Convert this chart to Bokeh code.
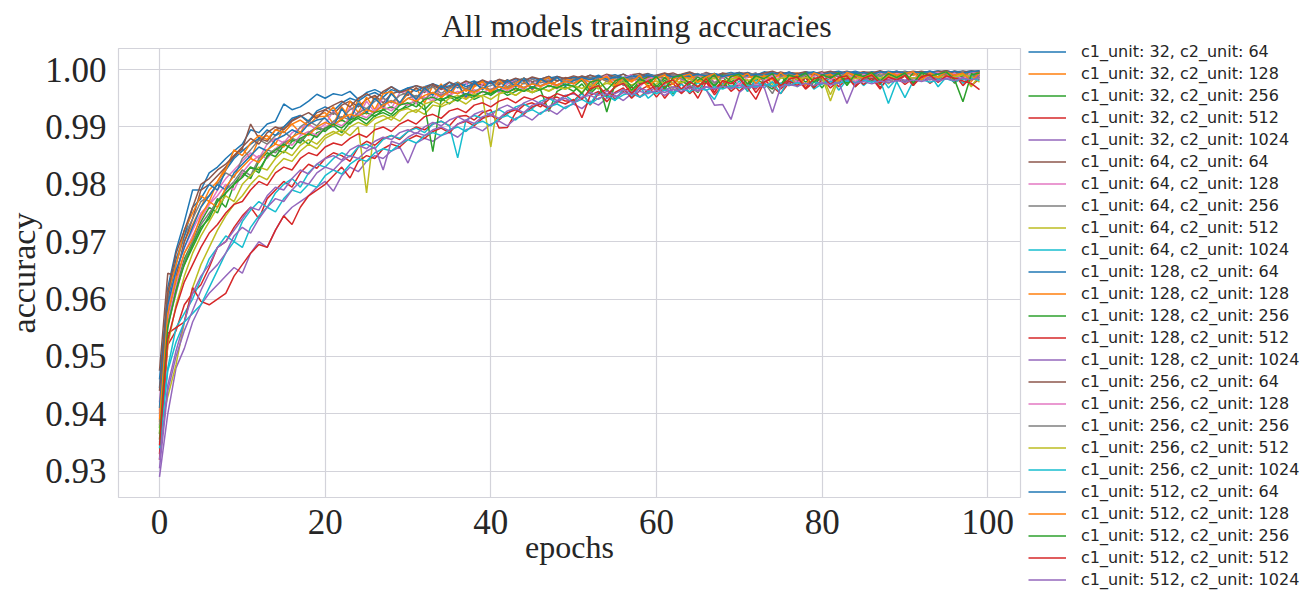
from bokeh.plotting import figure
from bokeh.models import Range1d, FixedTicker, NumeralTickFormatter, Legend, LegendItem
from bokeh.embed import file_html
from bokeh.resources import INLINE

epochs = list(range(100))
c1_units = [32, 64, 128, 256, 512]
c2_units = [64, 128, 256, 512, 1024]
x_ticks = [0, 20, 40, 60, 80, 100]
y_ticks = [0.93, 0.94, 0.95, 0.96, 0.97, 0.98, 0.99, 1.00]

acc_32_64 = [
    0.9445, 0.9620, 0.9685, 0.9735, 0.9790, 0.9790, 0.9820, 0.9830, 0.9845, 0.9858,
    0.9870, 0.9895, 0.9890, 0.9905, 0.9910, 0.9940, 0.9930, 0.9935, 0.9945, 0.9957,
    0.9950, 0.9958, 0.9955, 0.9962, 0.9948, 0.9960, 0.9965, 0.9958, 0.9970, 0.9962,
    0.9968, 0.9972, 0.9965, 0.9975, 0.9970, 0.9978, 0.9968, 0.9975, 0.9980, 0.9972,
    0.9978, 0.9982, 0.9975, 0.9980, 0.9985, 0.9978, 0.9983, 0.9988, 0.9980, 0.9985,
    0.9982, 0.9988, 0.9985, 0.9990, 0.9983, 0.9988, 0.9992, 0.9985, 0.9990, 0.9987,
    0.9990, 0.9985, 0.9992, 0.9988, 0.9994, 0.9987, 0.9990, 0.9993, 0.9988, 0.9992,
    0.9995, 0.9990, 0.9993, 0.9988, 0.9994, 0.9991, 0.9996, 0.9990, 0.9993, 0.9995,
    0.9992, 0.9996, 0.9990, 0.9994, 0.9997, 0.9993, 0.9995, 0.9991, 0.9996, 0.9994,
    0.9997, 0.9993, 0.9996, 0.9995, 0.9998, 0.9994, 0.9996, 0.9997, 0.9995, 0.9998]
acc_32_128 = [
    0.9405, 0.9590, 0.9640, 0.9700, 0.9730, 0.9760, 0.9790, 0.9805, 0.9830, 0.9850,
    0.9862, 0.9845, 0.9878, 0.9885, 0.9870, 0.9898, 0.9905, 0.9890, 0.9912, 0.9920,
    0.9925, 0.9905, 0.9935, 0.9915, 0.9948, 0.9922, 0.9955, 0.9930, 0.9962, 0.9940,
    0.9958, 0.9968, 0.9942, 0.9972, 0.9950, 0.9966, 0.9975, 0.9948, 0.9970, 0.9978,
    0.9958, 0.9975, 0.9982, 0.9962, 0.9978, 0.9966, 0.9984, 0.9970, 0.9980, 0.9986,
    0.9975, 0.9983, 0.9978, 0.9985, 0.9980, 0.9976, 0.9986, 0.9982, 0.9988, 0.9980,
    0.9985, 0.9990, 0.9983, 0.9987, 0.9992, 0.9980, 0.9988, 0.9991, 0.9985, 0.9990,
    0.9987, 0.9992, 0.9984, 0.9990, 0.9993, 0.9986, 0.9991, 0.9988, 0.9994, 0.9990,
    0.9992, 0.9987, 0.9995, 0.9990, 0.9993, 0.9996, 0.9989, 0.9994, 0.9991, 0.9995,
    0.9993, 0.9990, 0.9996, 0.9992, 0.9995, 0.9993, 0.9997, 0.9991, 0.9995, 0.9996]
acc_32_256 = [
    0.9365, 0.9560, 0.9630, 0.9660, 0.9690, 0.9720, 0.9745, 0.9775, 0.9760, 0.9800,
    0.9815, 0.9830, 0.9820, 0.9850, 0.9862, 0.9855, 0.9875, 0.9880, 0.9870, 0.9890,
    0.9895, 0.9902, 0.9890, 0.9908, 0.9915, 0.9905, 0.9920, 0.9925, 0.9918, 0.9930,
    0.9935, 0.9942, 0.9930, 0.9945, 0.9950, 0.9940, 0.9952, 0.9958, 0.9948, 0.9955,
    0.9960, 0.9965, 0.9955, 0.9962, 0.9968, 0.9960, 0.9965, 0.9927, 0.9962, 0.9970,
    0.9962, 0.9975, 0.9958, 0.9972, 0.9951, 0.9970, 0.9980, 0.9962, 0.9976, 0.9984,
    0.9966, 0.9982, 0.9958, 0.9980, 0.9972, 0.9960, 0.9985, 0.9970, 0.9988, 0.9968,
    0.9986, 0.9962, 0.9984, 0.9975, 0.9966, 0.9989, 0.9973, 0.9990, 0.9978, 0.9986,
    0.9968, 0.9988, 0.9976, 0.9992, 0.9970, 0.9985, 0.9990, 0.9974, 0.9993, 0.9980,
    0.9990, 0.9972, 0.9994, 0.9982, 0.9988, 0.9995, 0.9976, 0.9991, 0.9983, 0.9992]
acc_32_512 = [
    0.9330, 0.9520, 0.9545, 0.9590, 0.9610, 0.9625, 0.9655, 0.9690, 0.9700, 0.9725,
    0.9745, 0.9760, 0.9740, 0.9775, 0.9790, 0.9805, 0.9795, 0.9820, 0.9835, 0.9828,
    0.9845, 0.9855, 0.9850, 0.9840, 0.9865, 0.9875, 0.9868, 0.9880, 0.9885, 0.9878,
    0.9892, 0.9900, 0.9895, 0.9905, 0.9910, 0.9902, 0.9918, 0.9920, 0.9912, 0.9925,
    0.9930, 0.9898, 0.9899, 0.9925, 0.9938, 0.9942, 0.9935, 0.9948, 0.9952, 0.9945,
    0.9945, 0.9960, 0.9938, 0.9958, 0.9966, 0.9948, 0.9962, 0.9970, 0.9952, 0.9965,
    0.9972, 0.9950, 0.9968, 0.9976, 0.9958, 0.9970, 0.9978, 0.9956, 0.9972, 0.9980,
    0.9962, 0.9976, 0.9966, 0.9982, 0.9970, 0.9958, 0.9977, 0.9984, 0.9966, 0.9978,
    0.9985, 0.9968, 0.9980, 0.9986, 0.9972, 0.9981, 0.9988, 0.9969, 0.9983, 0.9987,
    0.9974, 0.9985, 0.9990, 0.9976, 0.9986, 0.9991, 0.9978, 0.9988, 0.9972, 0.9984]
acc_32_1024 = [
    0.9290, 0.9400, 0.9480, 0.9514, 0.9560, 0.9590, 0.9610, 0.9625, 0.9640, 0.9655,
    0.9645, 0.9680, 0.9700, 0.9690, 0.9720, 0.9745, 0.9760, 0.9770, 0.9780, 0.9795,
    0.9805, 0.9788, 0.9815, 0.9830, 0.9822, 0.9840, 0.9850, 0.9845, 0.9858, 0.9865,
    0.9837, 0.9872, 0.9880, 0.9875, 0.9885, 0.9890, 0.9882, 0.9895, 0.9900, 0.9893,
    0.9905, 0.9910, 0.9902, 0.9915, 0.9920, 0.9912, 0.9925, 0.9930, 0.9922, 0.9935,
    0.9940, 0.9932, 0.9945, 0.9938, 0.9950, 0.9955, 0.9946, 0.9958, 0.9952, 0.9960,
    0.9962, 0.9955, 0.9965, 0.9960, 0.9968, 0.9962, 0.9970, 0.9965, 0.9972, 0.9968,
    0.9974, 0.9970, 0.9976, 0.9972, 0.9978, 0.9973, 0.9977, 0.9980, 0.9975, 0.9979,
    0.9982, 0.9976, 0.9980, 0.9983, 0.9978, 0.9982, 0.9985, 0.9980, 0.9984, 0.9986,
    0.9981, 0.9985, 0.9987, 0.9983, 0.9986, 0.9988, 0.9984, 0.9987, 0.9989, 0.9985]
acc_64_64 = [
    0.9475, 0.9645, 0.9640, 0.9700, 0.9740, 0.9790, 0.9800, 0.9815, 0.9830, 0.9848,
    0.9862, 0.9905, 0.9880, 0.9875, 0.9895, 0.9900, 0.9912, 0.9920, 0.9908, 0.9925,
    0.9930, 0.9922, 0.9938, 0.9945, 0.9935, 0.9948, 0.9955, 0.9942, 0.9958, 0.9962,
    0.9955, 0.9968, 0.9960, 0.9972, 0.9965, 0.9970, 0.9975, 0.9966, 0.9978, 0.9972,
    0.9980, 0.9974, 0.9982, 0.9976, 0.9985, 0.9978, 0.9983, 0.9988, 0.9980, 0.9986,
    0.9983, 0.9989, 0.9985, 0.9979, 0.9990, 0.9986, 0.9992, 0.9984, 0.9990, 0.9993,
    0.9987, 0.9991, 0.9994, 0.9988, 0.9992, 0.9989, 0.9995, 0.9990, 0.9993, 0.9987,
    0.9992, 0.9995, 0.9990, 0.9994, 0.9991, 0.9996, 0.9992, 0.9989, 0.9995, 0.9993,
    0.9996, 0.9991, 0.9994, 0.9997, 0.9993, 0.9995, 0.9990, 0.9996, 0.9994, 0.9997,
    0.9992, 0.9995, 0.9997, 0.9994, 0.9996, 0.9993, 0.9997, 0.9995, 0.9998, 0.9996]
acc_64_128 = [
    0.9420, 0.9580, 0.9650, 0.9690, 0.9720, 0.9750, 0.9765, 0.9790, 0.9810, 0.9825,
    0.9840, 0.9855, 0.9845, 0.9870, 0.9880, 0.9872, 0.9890, 0.9898, 0.9905, 0.9895,
    0.9905, 0.9928, 0.9912, 0.9935, 0.9918, 0.9945, 0.9925, 0.9952, 0.9932, 0.9960,
    0.9962, 0.9940, 0.9966, 0.9948, 0.9970, 0.9955, 0.9974, 0.9978, 0.9952, 0.9975,
    0.9980, 0.9958, 0.9976, 0.9982, 0.9962, 0.9985, 0.9970, 0.9983, 0.9966, 0.9980,
    0.9980, 0.9984, 0.9978, 0.9982, 0.9986, 0.9980, 0.9984, 0.9988, 0.9981, 0.9985,
    0.9988, 0.9983, 0.9987, 0.9990, 0.9984, 0.9988, 0.9986, 0.9991, 0.9985, 0.9989,
    0.9991, 0.9986, 0.9990, 0.9993, 0.9987, 0.9990, 0.9988, 0.9992, 0.9989, 0.9994,
    0.9990, 0.9993, 0.9988, 0.9992, 0.9995, 0.9990, 0.9993, 0.9991, 0.9994, 0.9992,
    0.9995, 0.9991, 0.9994, 0.9992, 0.9996, 0.9993, 0.9990, 0.9995, 0.9993, 0.9996]
acc_64_256 = [
    0.9400, 0.9600, 0.9660, 0.9710, 0.9740, 0.9770, 0.9780, 0.9800, 0.9820, 0.9812,
    0.9845, 0.9860, 0.9878, 0.9870, 0.9885, 0.9892, 0.9880, 0.9900, 0.9910, 0.9902,
    0.9918, 0.9925, 0.9915, 0.9930, 0.9938, 0.9932, 0.9945, 0.9950, 0.9942, 0.9955,
    0.9960, 0.9952, 0.9964, 0.9970, 0.9958, 0.9968, 0.9973, 0.9965, 0.9975, 0.9968,
    0.9972, 0.9978, 0.9970, 0.9980, 0.9975, 0.9983, 0.9977, 0.9981, 0.9985, 0.9978,
    0.9984, 0.9980, 0.9986, 0.9982, 0.9988, 0.9984, 0.9980, 0.9987, 0.9990, 0.9985,
    0.9988, 0.9985, 0.9991, 0.9987, 0.9990, 0.9993, 0.9986, 0.9990, 0.9988, 0.9992,
    0.9989, 0.9993, 0.9987, 0.9991, 0.9994, 0.9989, 0.9992, 0.9990, 0.9995, 0.9991,
    0.9993, 0.9990, 0.9995, 0.9992, 0.9989, 0.9994, 0.9996, 0.9991, 0.9994, 0.9993,
    0.9996, 0.9992, 0.9995, 0.9993, 0.9997, 0.9994, 0.9992, 0.9996, 0.9994, 0.9997]
acc_64_512 = [
    0.9370, 0.9430, 0.9486, 0.9560, 0.9620, 0.9660, 0.9690, 0.9720, 0.9745, 0.9765,
    0.9780, 0.9800, 0.9815, 0.9808, 0.9830, 0.9845, 0.9840, 0.9858, 0.9870, 0.9862,
    0.9880, 0.9888, 0.9895, 0.9885, 0.9900, 0.9785, 0.9905, 0.9912, 0.9918, 0.9910,
    0.9925, 0.9930, 0.9922, 0.9938, 0.9935, 0.9942, 0.9948, 0.9940, 0.9952, 0.9955,
    0.9948, 0.9958, 0.9962, 0.9955, 0.9965, 0.9960, 0.9968, 0.9962, 0.9970, 0.9966,
    0.9972, 0.9960, 0.9978, 0.9966, 0.9980, 0.9968, 0.9984, 0.9962, 0.9982, 0.9972,
    0.9975, 0.9986, 0.9966, 0.9982, 0.9988, 0.9970, 0.9984, 0.9990, 0.9968, 0.9983,
    0.9989, 0.9972, 0.9986, 0.9991, 0.9974, 0.9985, 0.9992, 0.9970, 0.9988, 0.9980,
    0.9990, 0.9956, 0.9987, 0.9992, 0.9976, 0.9989, 0.9984, 0.9993, 0.9975, 0.9988,
    0.9994, 0.9978, 0.9990, 0.9985, 0.9993, 0.9995, 0.9980, 0.9992, 0.9970, 0.9990]
acc_64_1024 = [
    0.9350, 0.9480, 0.9550, 0.9575, 0.9600, 0.9635, 0.9670, 0.9690, 0.9710, 0.9700,
    0.9735, 0.9755, 0.9770, 0.9760, 0.9785, 0.9800, 0.9810, 0.9795, 0.9820, 0.9835,
    0.9830, 0.9845, 0.9855, 0.9848, 0.9865, 0.9870, 0.9862, 0.9878, 0.9885, 0.9880,
    0.9892, 0.9898, 0.9890, 0.9905, 0.9910, 0.9902, 0.9846, 0.9912, 0.9920, 0.9915,
    0.9925, 0.9930, 0.9922, 0.9935, 0.9940, 0.9932, 0.9945, 0.9950, 0.9942, 0.9955,
    0.9944, 0.9958, 0.9940, 0.9962, 0.9955, 0.9946, 0.9966, 0.9952, 0.9970, 0.9950,
    0.9962, 0.9972, 0.9954, 0.9975, 0.9960, 0.9978, 0.9964, 0.9948, 0.9976, 0.9966,
    0.9980, 0.9962, 0.9982, 0.9968, 0.9979, 0.9958, 0.9984, 0.9970, 0.9986, 0.9966,
    0.9975, 0.9987, 0.9964, 0.9982, 0.9988, 0.9972, 0.9985, 0.9990, 0.9968, 0.9984,
    0.9991, 0.9974, 0.9986, 0.9992, 0.9970, 0.9987, 0.9993, 0.9976, 0.9989, 0.9994]
acc_128_64 = [
    0.9460, 0.9600, 0.9670, 0.9710, 0.9760, 0.9775, 0.9800, 0.9790, 0.9825, 0.9845,
    0.9858, 0.9870, 0.9880, 0.9895, 0.9885, 0.9900, 0.9915, 0.9920, 0.9910, 0.9928,
    0.9935, 0.9928, 0.9942, 0.9950, 0.9945, 0.9955, 0.9960, 0.9952, 0.9965, 0.9960,
    0.9968, 0.9962, 0.9970, 0.9975, 0.9968, 0.9972, 0.9978, 0.9970, 0.9976, 0.9980,
    0.9975, 0.9982, 0.9978, 0.9984, 0.9980, 0.9986, 0.9981, 0.9985, 0.9988, 0.9983,
    0.9987, 0.9984, 0.9990, 0.9985, 0.9988, 0.9991, 0.9986, 0.9990, 0.9987, 0.9992,
    0.9989, 0.9993, 0.9988, 0.9991, 0.9995, 0.9990, 0.9993, 0.9989, 0.9992, 0.9995,
    0.9991, 0.9994, 0.9990, 0.9996, 0.9993, 0.9991, 0.9995, 0.9992, 0.9996, 0.9994,
    0.9992, 0.9995, 0.9997, 0.9993, 0.9995, 0.9991, 0.9996, 0.9994, 0.9997, 0.9995,
    0.9993, 0.9996, 0.9994, 0.9997, 0.9995, 0.9998, 0.9994, 0.9996, 0.9997, 0.9995]
acc_128_128 = [
    0.9385, 0.9610, 0.9660, 0.9720, 0.9750, 0.9780, 0.9770, 0.9805, 0.9825, 0.9860,
    0.9850, 0.9872, 0.9885, 0.9878, 0.9895, 0.9890, 0.9905, 0.9912, 0.9902, 0.9918,
    0.9918, 0.9935, 0.9910, 0.9945, 0.9925, 0.9952, 0.9930, 0.9958, 0.9962, 0.9938,
    0.9965, 0.9948, 0.9970, 0.9956, 0.9975, 0.9950, 0.9978, 0.9962, 0.9972, 0.9980,
    0.9960, 0.9982, 0.9968, 0.9976, 0.9985, 0.9964, 0.9980, 0.9986, 0.9970, 0.9983,
    0.9981, 0.9985, 0.9978, 0.9983, 0.9987, 0.9981, 0.9985, 0.9980, 0.9988, 0.9984,
    0.9986, 0.9990, 0.9983, 0.9988, 0.9985, 0.9991, 0.9987, 0.9984, 0.9990, 0.9988,
    0.9992, 0.9986, 0.9990, 0.9988, 0.9993, 0.9989, 0.9991, 0.9994, 0.9988, 0.9992,
    0.9990, 0.9994, 0.9991, 0.9993, 0.9989, 0.9995, 0.9992, 0.9994, 0.9990, 0.9993,
    0.9995, 0.9991, 0.9994, 0.9992, 0.9996, 0.9993, 0.9995, 0.9991, 0.9994, 0.9996]
acc_128_256 = [
    0.9375, 0.9570, 0.9620, 0.9670, 0.9700, 0.9735, 0.9760, 0.9750, 0.9785, 0.9800,
    0.9820, 0.9810, 0.9840, 0.9855, 0.9848, 0.9868, 0.9878, 0.9872, 0.9890, 0.9898,
    0.9892, 0.9905, 0.9912, 0.9905, 0.9920, 0.9925, 0.9918, 0.9930, 0.9935, 0.9928,
    0.9940, 0.9945, 0.9938, 0.9857, 0.9948, 0.9952, 0.9945, 0.9958, 0.9955, 0.9962,
    0.9955, 0.9965, 0.9960, 0.9968, 0.9962, 0.9970, 0.9965, 0.9972, 0.9968, 0.9974,
    0.9970, 0.9982, 0.9962, 0.9978, 0.9926, 0.9975, 0.9985, 0.9964, 0.9980, 0.9988,
    0.9970, 0.9986, 0.9975, 0.9990, 0.9966, 0.9982, 0.9989, 0.9972, 0.9991, 0.9978,
    0.9988, 0.9968, 0.9992, 0.9980, 0.9986, 0.9974, 0.9993, 0.9982, 0.9988, 0.9970,
    0.9992, 0.9984, 0.9994, 0.9976, 0.9989, 0.9992, 0.9980, 0.9995, 0.9986, 0.9990,
    0.9978, 0.9994, 0.9987, 0.9991, 0.9982, 0.9996, 0.9984, 0.9990, 0.9993, 0.9986]
acc_128_512 = [
    0.9320, 0.9540, 0.9550, 0.9560, 0.9620, 0.9596, 0.9590, 0.9600, 0.9610, 0.9640,
    0.9660, 0.9680, 0.9695, 0.9690, 0.9720, 0.9745, 0.9730, 0.9760, 0.9780, 0.9790,
    0.9800, 0.9815, 0.9830, 0.9811, 0.9840, 0.9850, 0.9845, 0.9862, 0.9870, 0.9865,
    0.9878, 0.9885, 0.9880, 0.9892, 0.9898, 0.9890, 0.9905, 0.9910, 0.9902, 0.9915,
    0.9920, 0.9912, 0.9925, 0.9930, 0.9922, 0.9935, 0.9940, 0.9932, 0.9945, 0.9940,
    0.9948, 0.9916, 0.9955, 0.9962, 0.9944, 0.9960, 0.9968, 0.9950, 0.9964, 0.9972,
    0.9952, 0.9970, 0.9976, 0.9958, 0.9972, 0.9950, 0.9978, 0.9966, 0.9980, 0.9962,
    0.9974, 0.9982, 0.9960, 0.9978, 0.9984, 0.9966, 0.9980, 0.9972, 0.9986, 0.9968,
    0.9982, 0.9987, 0.9970, 0.9984, 0.9988, 0.9974, 0.9985, 0.9966, 0.9988, 0.9980,
    0.9989, 0.9975, 0.9986, 0.9990, 0.9978, 0.9988, 0.9991, 0.9972, 0.9987, 0.9990]
acc_128_1024 = [
    0.9320, 0.9450, 0.9510, 0.9560, 0.9610, 0.9640, 0.9660, 0.9690, 0.9700, 0.9720,
    0.9740, 0.9760, 0.9755, 0.9780, 0.9795, 0.9790, 0.9810, 0.9825, 0.9818, 0.9835,
    0.9845, 0.9850, 0.9842, 0.9860, 0.9868, 0.9862, 0.9875, 0.9882, 0.9878, 0.9890,
    0.9895, 0.9888, 0.9900, 0.9908, 0.9902, 0.9912, 0.9918, 0.9910, 0.9922, 0.9928,
    0.9920, 0.9932, 0.9938, 0.9930, 0.9942, 0.9948, 0.9940, 0.9952, 0.9946, 0.9955,
    0.9958, 0.9950, 0.9960, 0.9955, 0.9962, 0.9958, 0.9965, 0.9960, 0.9967, 0.9963,
    0.9968, 0.9964, 0.9970, 0.9966, 0.9972, 0.9968, 0.9965, 0.9938, 0.9939, 0.9913,
    0.9960, 0.9972, 0.9968, 0.9975, 0.9970, 0.9976, 0.9972, 0.9978, 0.9974, 0.9979,
    0.9975, 0.9980, 0.9976, 0.9982, 0.9978, 0.9983, 0.9979, 0.9984, 0.9980, 0.9985,
    0.9981, 0.9986, 0.9982, 0.9987, 0.9983, 0.9985, 0.9988, 0.9984, 0.9987, 0.9989]
acc_256_64 = [
    0.9440, 0.9610, 0.9680, 0.9720, 0.9760, 0.9800, 0.9810, 0.9825, 0.9835, 0.9850,
    0.9865, 0.9880, 0.9870, 0.9890, 0.9900, 0.9895, 0.9910, 0.9918, 0.9925, 0.9915,
    0.9930, 0.9938, 0.9945, 0.9935, 0.9950, 0.9958, 0.9948, 0.9962, 0.9970, 0.9960,
    0.9965, 0.9972, 0.9968, 0.9975, 0.9966, 0.9978, 0.9972, 0.9980, 0.9974, 0.9982,
    0.9976, 0.9983, 0.9979, 0.9985, 0.9980, 0.9987, 0.9983, 0.9978, 0.9988, 0.9984,
    0.9989, 0.9985, 0.9990, 0.9986, 0.9992, 0.9988, 0.9984, 0.9991, 0.9993, 0.9987,
    0.9990, 0.9994, 0.9989, 0.9992, 0.9996, 0.9990, 0.9993, 0.9987, 0.9994, 0.9991,
    0.9995, 0.9992, 0.9990, 0.9994, 0.9997, 0.9992, 0.9995, 0.9993, 0.9996, 0.9991,
    0.9994, 0.9997, 0.9993, 0.9995, 0.9992, 0.9996, 0.9994, 0.9998, 0.9993, 0.9996,
    0.9994, 0.9997, 0.9995, 0.9993, 0.9996, 0.9998, 0.9994, 0.9997, 0.9995, 0.9997]
acc_256_128 = [
    0.9395, 0.9565, 0.9625, 0.9680, 0.9710, 0.9740, 0.9765, 0.9780, 0.9800, 0.9790,
    0.9820, 0.9838, 0.9850, 0.9845, 0.9862, 0.9875, 0.9868, 0.9885, 0.9892, 0.9885,
    0.9900, 0.9908, 0.9902, 0.9915, 0.9922, 0.9916, 0.9930, 0.9935, 0.9928, 0.9942,
    0.9938, 0.9948, 0.9952, 0.9945, 0.9958, 0.9955, 0.9962, 0.9957, 0.9965, 0.9960,
    0.9966, 0.9970, 0.9963, 0.9972, 0.9968, 0.9975, 0.9970, 0.9977, 0.9973, 0.9979,
    0.9975, 0.9986, 0.9968, 0.9982, 0.9990, 0.9972, 0.9985, 0.9991, 0.9970, 0.9984,
    0.9988, 0.9974, 0.9992, 0.9982, 0.9976, 0.9990, 0.9993, 0.9978, 0.9986, 0.9992,
    0.9972, 0.9988, 0.9994, 0.9980, 0.9990, 0.9985, 0.9995, 0.9976, 0.9991, 0.9988,
    0.9994, 0.9982, 0.9990, 0.9996, 0.9979, 0.9992, 0.9987, 0.9995, 0.9984, 0.9993,
    0.9988, 0.9996, 0.9980, 0.9993, 0.9995, 0.9986, 0.9994, 0.9982, 0.9996, 0.9991]
acc_256_256 = [
    0.9380, 0.9555, 0.9610, 0.9665, 0.9700, 0.9730, 0.9750, 0.9770, 0.9790, 0.9805,
    0.9825, 0.9815, 0.9845, 0.9860, 0.9855, 0.9872, 0.9880, 0.9875, 0.9890, 0.9900,
    0.9895, 0.9910, 0.9918, 0.9912, 0.9925, 0.9932, 0.9925, 0.9940, 0.9946, 0.9938,
    0.9950, 0.9955, 0.9948, 0.9960, 0.9955, 0.9963, 0.9958, 0.9966, 0.9962, 0.9969,
    0.9965, 0.9971, 0.9967, 0.9974, 0.9969, 0.9976, 0.9972, 0.9978, 0.9973, 0.9980,
    0.9976, 0.9985, 0.9970, 0.9988, 0.9979, 0.9990, 0.9972, 0.9986, 0.9981, 0.9991,
    0.9987, 0.9975, 0.9992, 0.9984, 0.9978, 0.9990, 0.9993, 0.9976, 0.9988, 0.9994,
    0.9982, 0.9990, 0.9994, 0.9978, 0.9958, 0.9988, 0.9993, 0.9984, 0.9991, 0.9995,
    0.9980, 0.9993, 0.9987, 0.9995, 0.9990, 0.9982, 0.9994, 0.9988, 0.9996, 0.9985,
    0.9994, 0.9978, 0.9993, 0.9996, 0.9986, 0.9994, 0.9990, 0.9997, 0.9984, 0.9995]
acc_256_512 = [
    0.9365, 0.9520, 0.9590, 0.9640, 0.9680, 0.9710, 0.9735, 0.9760, 0.9780, 0.9770,
    0.9800, 0.9815, 0.9830, 0.9825, 0.9845, 0.9858, 0.9850, 0.9868, 0.9878, 0.9870,
    0.9885, 0.9892, 0.9885, 0.9900, 0.9908, 0.9902, 0.9915, 0.9920, 0.9912, 0.9928,
    0.9932, 0.9925, 0.9940, 0.9945, 0.9938, 0.9950, 0.9955, 0.9948, 0.9958, 0.9952,
    0.9865, 0.9958, 0.9962, 0.9955, 0.9965, 0.9960, 0.9968, 0.9963, 0.9970, 0.9966,
    0.9972, 0.9967, 0.9974, 0.9970, 0.9976, 0.9972, 0.9978, 0.9973, 0.9979, 0.9975,
    0.9980, 0.9976, 0.9981, 0.9977, 0.9983, 0.9978, 0.9982, 0.9985, 0.9979, 0.9983,
    0.9986, 0.9981, 0.9984, 0.9987, 0.9982, 0.9985, 0.9988, 0.9983, 0.9986, 0.9984,
    0.9987, 0.9945, 0.9985, 0.9988, 0.9984, 0.9987, 0.9989, 0.9985, 0.9988, 0.9986,
    0.9989, 0.9985, 0.9988, 0.9990, 0.9986, 0.9989, 0.9987, 0.9991, 0.9988, 0.9978]
acc_256_1024 = [
    0.9340, 0.9475, 0.9525, 0.9560, 0.9575, 0.9590, 0.9620, 0.9650, 0.9680, 0.9700,
    0.9690, 0.9725, 0.9745, 0.9760, 0.9752, 0.9775, 0.9790, 0.9785, 0.9800, 0.9795,
    0.9815, 0.9825, 0.9818, 0.9835, 0.9845, 0.9840, 0.9855, 0.9862, 0.9858, 0.9870,
    0.9878, 0.9872, 0.9885, 0.9890, 0.9885, 0.9895, 0.9900, 0.9892, 0.9905, 0.9910,
    0.9902, 0.9915, 0.9920, 0.9912, 0.9925, 0.9930, 0.9922, 0.9935, 0.9940, 0.9932,
    0.9942, 0.9948, 0.9940, 0.9950, 0.9955, 0.9947, 0.9956, 0.9960, 0.9952, 0.9962,
    0.9958, 0.9964, 0.9960, 0.9966, 0.9962, 0.9968, 0.9964, 0.9970, 0.9966, 0.9972,
    0.9968, 0.9973, 0.9970, 0.9975, 0.9971, 0.9976, 0.9972, 0.9977, 0.9974, 0.9978,
    0.9975, 0.9979, 0.9976, 0.9980, 0.9977, 0.9981, 0.9978, 0.9982, 0.9941, 0.9979,
    0.9951, 0.9980, 0.9983, 0.9978, 0.9982, 0.9984, 0.9979, 0.9983, 0.9985, 0.9981]
acc_512_64 = [
    0.9410, 0.9590, 0.9650, 0.9690, 0.9725, 0.9760, 0.9780, 0.9800, 0.9790, 0.9820,
    0.9835, 0.9850, 0.9865, 0.9858, 0.9878, 0.9885, 0.9895, 0.9888, 0.9905, 0.9912,
    0.9915, 0.9900, 0.9932, 0.9912, 0.9942, 0.9925, 0.9950, 0.9935, 0.9958, 0.9942,
    0.9962, 0.9948, 0.9968, 0.9955, 0.9972, 0.9960, 0.9976, 0.9952, 0.9978, 0.9965,
    0.9980, 0.9962, 0.9982, 0.9970, 0.9985, 0.9966, 0.9984, 0.9975, 0.9987, 0.9972,
    0.9981, 0.9986, 0.9982, 0.9988, 0.9983, 0.9987, 0.9984, 0.9989, 0.9985, 0.9990,
    0.9986, 0.9991, 0.9987, 0.9990, 0.9988, 0.9992, 0.9989, 0.9993, 0.9988, 0.9991,
    0.9994, 0.9989, 0.9992, 0.9990, 0.9994, 0.9991, 0.9995, 0.9990, 0.9993, 0.9996,
    0.9991, 0.9994, 0.9992, 0.9996, 0.9993, 0.9995, 0.9991, 0.9996, 0.9994, 0.9997,
    0.9993, 0.9996, 0.9994, 0.9997, 0.9992, 0.9995, 0.9997, 0.9994, 0.9996, 0.9998]
acc_512_128 = [
    0.9390, 0.9575, 0.9635, 0.9680, 0.9705, 0.9745, 0.9770, 0.9760, 0.9795, 0.9815,
    0.9830, 0.9845, 0.9838, 0.9860, 0.9870, 0.9865, 0.9882, 0.9890, 0.9885, 0.9900,
    0.9908, 0.9902, 0.9915, 0.9922, 0.9918, 0.9930, 0.9925, 0.9938, 0.9945, 0.9938,
    0.9950, 0.9945, 0.9955, 0.9960, 0.9952, 0.9962, 0.9958, 0.9965, 0.9960, 0.9968,
    0.9963, 0.9970, 0.9966, 0.9973, 0.9968, 0.9975, 0.9971, 0.9977, 0.9973, 0.9979,
    0.9975, 0.9984, 0.9966, 0.9982, 0.9988, 0.9972, 0.9986, 0.9978, 0.9990, 0.9968,
    0.9985, 0.9991, 0.9974, 0.9988, 0.9992, 0.9978, 0.9987, 0.9993, 0.9970, 0.9989,
    0.9986, 0.9993, 0.9976, 0.9990, 0.9982, 0.9994, 0.9984, 0.9991, 0.9972, 0.9994,
    0.9989, 0.9992, 0.9980, 0.9995, 0.9990, 0.9985, 0.9993, 0.9978, 0.9995, 0.9990,
    0.9993, 0.9996, 0.9982, 0.9994, 0.9987, 0.9996, 0.9990, 0.9994, 0.9979, 0.9995]
acc_512_256 = [
    0.9355, 0.9550, 0.9615, 0.9660, 0.9695, 0.9725, 0.9740, 0.9770, 0.9785, 0.9800,
    0.9812, 0.9830, 0.9825, 0.9848, 0.9860, 0.9870, 0.9862, 0.9880, 0.9888, 0.9882,
    0.9898, 0.9905, 0.9898, 0.9912, 0.9918, 0.9912, 0.9925, 0.9930, 0.9922, 0.9938,
    0.9942, 0.9935, 0.9948, 0.9952, 0.9945, 0.9955, 0.9950, 0.9958, 0.9953, 0.9962,
    0.9958, 0.9965, 0.9960, 0.9967, 0.9962, 0.9970, 0.9965, 0.9972, 0.9968, 0.9975,
    0.9971, 0.9958, 0.9978, 0.9982, 0.9964, 0.9980, 0.9986, 0.9970, 0.9984, 0.9976,
    0.9988, 0.9966, 0.9986, 0.9990, 0.9974, 0.9987, 0.9978, 0.9991, 0.9968, 0.9988,
    0.9992, 0.9975, 0.9989, 0.9984, 0.9993, 0.9970, 0.9990, 0.9986, 0.9994, 0.9978,
    0.9991, 0.9985, 0.9994, 0.9972, 0.9992, 0.9988, 0.9995, 0.9980, 0.9993, 0.9986,
    0.9994, 0.9976, 0.9995, 0.9989, 0.9992, 0.9996, 0.9982, 0.9944, 0.9991, 0.9994]
acc_512_512 = [
    0.9345, 0.9530, 0.9585, 0.9630, 0.9660, 0.9690, 0.9715, 0.9730, 0.9750, 0.9765,
    0.9770, 0.9790, 0.9805, 0.9798, 0.9820, 0.9830, 0.9825, 0.9845, 0.9855, 0.9850,
    0.9865, 0.9872, 0.9868, 0.9880, 0.9888, 0.9882, 0.9895, 0.9900, 0.9892, 0.9905,
    0.9912, 0.9905, 0.9918, 0.9922, 0.9915, 0.9928, 0.9932, 0.9925, 0.9938, 0.9942,
    0.9935, 0.9945, 0.9950, 0.9942, 0.9952, 0.9948, 0.9955, 0.9950, 0.9958, 0.9953,
    0.9960, 0.9948, 0.9966, 0.9972, 0.9955, 0.9970, 0.9976, 0.9958, 0.9974, 0.9980,
    0.9962, 0.9977, 0.9982, 0.9966, 0.9979, 0.9970, 0.9984, 0.9960, 0.9981, 0.9975,
    0.9985, 0.9968, 0.9948, 0.9978, 0.9986, 0.9972, 0.9983, 0.9987, 0.9968, 0.9984,
    0.9988, 0.9974, 0.9986, 0.9989, 0.9970, 0.9985, 0.9990, 0.9976, 0.9987, 0.9982,
    0.9990, 0.9972, 0.9988, 0.9991, 0.9978, 0.9989, 0.9985, 0.9980, 0.9976, 0.9965]
acc_512_1024 = [
    0.9305, 0.9440, 0.9500, 0.9545, 0.9580, 0.9615, 0.9645, 0.9660, 0.9680, 0.9710,
    0.9725, 0.9715, 0.9740, 0.9760, 0.9775, 0.9770, 0.9790, 0.9805, 0.9800, 0.9820,
    0.9830, 0.9825, 0.9840, 0.9850, 0.9845, 0.9858, 0.9865, 0.9825, 0.9875, 0.9870,
    0.9882, 0.9890, 0.9885, 0.9895, 0.9900, 0.9893, 0.9905, 0.9912, 0.9906, 0.9918,
    0.9922, 0.9915, 0.9928, 0.9932, 0.9925, 0.9938, 0.9942, 0.9935, 0.9945, 0.9950,
    0.9942, 0.9952, 0.9955, 0.9948, 0.9958, 0.9952, 0.9960, 0.9956, 0.9962, 0.9958,
    0.9964, 0.9960, 0.9966, 0.9962, 0.9968, 0.9964, 0.9970, 0.9966, 0.9971, 0.9967,
    0.9972, 0.9968, 0.9973, 0.9969, 0.9925, 0.9970, 0.9974, 0.9971, 0.9976, 0.9972,
    0.9977, 0.9973, 0.9978, 0.9941, 0.9976, 0.9979, 0.9975, 0.9980, 0.9977, 0.9981,
    0.9978, 0.9982, 0.9979, 0.9983, 0.9980, 0.9984, 0.9981, 0.9985, 0.9982, 0.9986]

series = [
    acc_32_64, acc_32_128, acc_32_256, acc_32_512, acc_32_1024,
    acc_64_64, acc_64_128, acc_64_256, acc_64_512, acc_64_1024,
    acc_128_64, acc_128_128, acc_128_256, acc_128_512, acc_128_1024,
    acc_256_64, acc_256_128, acc_256_256, acc_256_512, acc_256_1024,
    acc_512_64, acc_512_128, acc_512_256, acc_512_512, acc_512_1024,
]
labels = [f"c1_unit: {a}, c2_unit: {b}" for a in c1_units for b in c2_units]
palette = ["#1f77b4", "#ff7f0e", "#2ca02c", "#d62728", "#9467bd",
           "#8c564b", "#e377c2", "#7f7f7f", "#bcbd22", "#17becf"]

SERIF = "Liberation Serif"
TXT = "#262626"
GRID = "#d3d3da"

p = figure(frame_width=902, frame_height=449,
           min_border_left=118, min_border_right=296,
           min_border_top=47, min_border_bottom=96,
           x_range=Range1d(-4.95, 103.95), y_range=Range1d(0.92541, 1.00367),
           output_backend="svg", toolbar_location=None,
           title="All models training accuracies")
p.background_fill_color = "white"
p.border_fill_color = "white"
p.outline_line_color = GRID
p.outline_line_width = 1.2

p.title.text_font = SERIF
p.title.text_font_size = "32px"
p.title.text_font_style = "normal"
p.title.text_color = TXT
p.title.align = "left"
p.title.offset = 323

items = []
for i, ys in enumerate(series):
    r = p.line(epochs, ys, line_color=palette[i % 10], line_width=1.5)
    items.append(LegendItem(label=labels[i], renderers=[r]))

for ax in (p.xaxis[0], p.yaxis[0]):
    ax.major_tick_line_color = None
    ax.minor_tick_line_color = None
    ax.axis_line_color = None
    ax.major_label_text_font = SERIF
    ax.major_label_text_font_size = "35px"
    ax.major_label_text_color = TXT
    ax.axis_label_text_font = SERIF
    ax.axis_label_text_font_style = "normal"
    ax.axis_label_text_color = TXT

p.xaxis.axis_label_text_font_size = "32px"
p.yaxis.axis_label_text_font_size = "34px"
p.xaxis.ticker = FixedTicker(ticks=x_ticks)
p.yaxis.ticker = FixedTicker(ticks=y_ticks)
p.yaxis.formatter = NumeralTickFormatter(format="0.00")
p.xaxis.axis_label = "epochs"
p.yaxis.axis_label = "accuracy"
p.xaxis.major_label_standoff = 6
p.yaxis.major_label_standoff = 6
p.xaxis.axis_label_standoff = -8
p.yaxis.axis_label_standoff = 0

p.xgrid.ticker = FixedTicker(ticks=x_ticks)
p.ygrid.ticker = FixedTicker(ticks=y_ticks)
p.xgrid.grid_line_color = GRID
p.ygrid.grid_line_color = GRID
p.xgrid.grid_line_width = 1.2
p.ygrid.grid_line_width = 1.2

legend = Legend(items=items, location=(8, -92))
legend.border_line_color = None
legend.background_fill_alpha = 0
legend.padding = 0
legend.margin = 0
legend.spacing = 3
legend.glyph_width = 38
legend.glyph_height = 19
legend.label_height = 19
legend.label_standoff = 15
legend.label_text_font = "DejaVu Sans"
legend.label_text_font_size = "16px"
legend.label_text_color = TXT
p.add_layout(legend, "right")

open("out.html", "w").write(file_html(p, INLINE))
